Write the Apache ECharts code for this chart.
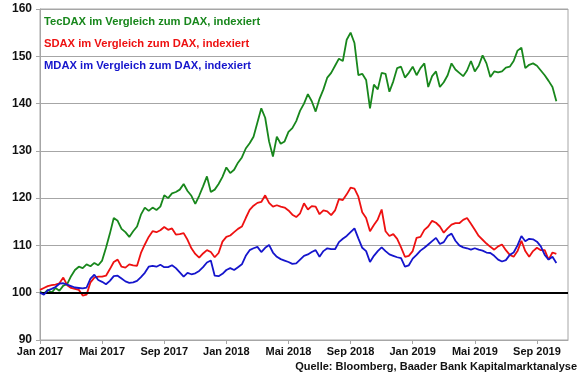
<!DOCTYPE html>
<html>
<head>
<meta charset="utf-8">
<script src="https://cdn.jsdelivr.net/npm/echarts@6/dist/echarts.min.js"></script>
<style>
  html, body { margin: 0; padding: 0; background: #fff; }
  #chart { width: 580px; height: 375px; }
</style>
</head>
<body>
<div id="chart"></div>
<script>
// Index relative to DAX (Jan 2017 = 100), read at quarter-month steps
const tickLabels = ['Jan 2017', 'Mai 2017', 'Sep 2017', 'Jan 2018', 'Mai 2018', 'Sep 2018', 'Jan 2019', 'Mai 2019', 'Sep 2019'];

const tecdax = [
  100.2, 99.8, 100.6, 100.0, 101.0, 100.4, 101.5, 101.8, 103.5, 104.8,
  105.5, 105.2, 106.0, 105.6, 106.3, 105.8, 106.8, 109.5, 112.5, 115.8,
  115.2, 113.5, 112.8, 111.8, 113.0, 114.0, 116.5, 118.0, 117.3, 118.0,
  117.5, 118.2, 120.6, 120.0, 121.0, 121.3, 121.8, 123.0, 121.5, 120.5,
  118.8, 120.5, 122.5, 124.6, 121.3, 121.8, 123.0, 124.5, 126.5, 125.3,
  126.0, 127.5, 128.6, 130.5, 131.6, 133.0, 136.0, 139.0, 137.0, 132.0,
  128.8, 133.0, 131.5, 132.0, 134.0, 134.8, 136.3, 138.5, 140.0, 142.0,
  140.5, 138.3, 141.0, 143.0, 145.5, 146.5, 148.0, 149.5, 149.0, 153.5,
  155.0, 152.8, 146.0, 146.3, 145.0, 139.0, 144.0, 143.0, 146.5, 146.3,
  142.5, 144.7, 147.5, 147.8, 145.5, 146.5, 147.8, 146.0, 147.5, 148.5,
  143.5, 145.8, 146.8, 143.5, 144.5, 146.0, 148.5, 147.2, 146.5, 145.8,
  147.0, 149.0, 146.8, 148.0, 150.2, 148.5, 145.6, 146.8, 146.6, 146.8,
  147.6, 147.8, 149.0, 151.2, 151.8, 147.5, 148.2, 148.5, 148.0, 147.0,
  146.0, 144.8, 143.5, 140.5
];

const sdax = [
  100.6, 101.0, 101.4, 101.6, 101.7, 102.0, 103.2, 101.6, 101.0, 100.8,
  100.6, 99.4, 99.6, 102.2, 103.2, 103.4, 103.4, 103.6, 105.0, 106.5,
  107.0, 105.5, 105.3, 106.0, 105.8, 105.7, 108.4, 110.2, 111.8, 113.0,
  112.8, 113.2, 113.9, 113.3, 113.6, 112.3, 112.4, 112.6, 111.2, 109.4,
  108.2, 107.4, 108.3, 109.0, 108.6, 107.5, 108.4, 110.8, 111.8, 112.1,
  112.8, 113.5, 114.0, 115.8, 117.5, 118.4, 119.0, 119.2, 120.6, 119.0,
  118.2, 118.5, 118.2, 118.0, 117.4, 116.5, 116.0, 116.8, 118.9, 117.6,
  118.3, 118.2, 116.6, 117.4, 117.2, 116.4, 117.4, 119.8, 119.6, 120.8,
  122.2, 122.0, 120.3, 117.0, 115.8, 113.0, 114.3, 115.5, 117.6, 113.0,
  112.0, 112.4, 111.4, 109.6, 107.6, 107.8, 108.8, 111.6, 111.8, 113.3,
  114.0, 115.2, 114.8, 114.0, 112.7, 113.6, 114.4, 114.7, 114.7, 115.4,
  115.8, 114.6, 113.3, 112.0, 111.2, 110.4, 109.7, 109.1, 109.8, 110.2,
  109.0, 108.0, 107.6, 108.8, 111.0, 108.8, 107.6, 108.8, 109.5, 109.0,
  109.0, 107.0, 108.5, 108.2
];

const mdax = [
  100.0, 99.6, 100.5, 100.8, 101.2, 101.9, 102.0, 101.7, 101.4, 101.1,
  101.0, 100.9, 101.1, 103.0, 103.8, 102.7, 102.3, 101.8, 102.5, 103.5,
  103.6, 103.0, 102.4, 102.1, 102.2, 102.5, 103.3, 104.2, 105.5, 105.7,
  105.5, 105.9, 105.4, 105.4, 105.8, 105.2, 104.3, 103.4, 104.2, 103.9,
  104.1, 104.6, 105.4, 106.4, 106.8, 103.6, 103.5, 104.0, 104.8, 105.2,
  104.8, 105.4, 106.0, 107.8, 109.0, 109.4, 109.7, 108.6, 109.5, 110.1,
  108.5, 107.6, 107.1, 106.8, 106.5, 106.1, 106.2, 107.0, 107.8, 108.1,
  108.6, 109.0, 107.6, 108.8, 109.4, 109.2, 109.2, 110.7, 111.4, 112.0,
  112.8, 113.6, 111.5, 109.5, 108.8, 106.5, 107.8, 108.8, 109.6, 108.8,
  108.1, 107.8, 107.5, 107.3, 105.5, 105.8, 107.2, 108.0, 108.9, 109.5,
  110.2, 110.9, 111.6, 110.3, 110.7, 112.0, 112.5, 111.0, 110.0, 109.6,
  109.4, 109.1, 109.4, 109.1, 108.9, 108.5, 108.4, 107.8, 107.0, 106.6,
  106.9, 108.0, 108.5, 110.0, 112.0, 110.9, 111.4, 111.3, 110.8, 109.8,
  108.0, 107.0, 107.6, 106.3
];

const legendTexts = [
  { text: 'TecDAX im Vergleich zum DAX, indexiert', color: '#18871c' },
  { text: 'SDAX im Vergleich zum DAX, indexiert', color: '#ee1111' },
  { text: 'MDAX im Vergleich zum DAX, indexiert', color: '#1515cc' }
];

// quarter-month slots, Jan 2017 .. Nov 2019
const STEPS_PER_TICK = 16;
const categories = [];
for (let i = 0; i <= 136; i++) {
  categories.push(i % STEPS_PER_TICK === 0 ? tickLabels[i / STEPS_PER_TICK] || '' : '');
}

const FONT = '"Liberation Sans", Arial, sans-serif';
const chart = echarts.init(document.getElementById('chart'), null, { renderer: 'canvas' });

chart.setOption({
  animation: false,
  backgroundColor: '#ffffff',
  grid: {
    left: 40, right: 12, top: 9, bottom: 35,
    show: true, borderColor: '#a6a6a6', borderWidth: 1
  },
  xAxis: {
    type: 'category',
    data: categories,
    boundaryGap: false,
    axisLine: { lineStyle: { color: '#a6a6a6', width: 1 } },
    axisTick: {
      length: 4,
      interval: (idx) => idx % STEPS_PER_TICK === 0 && idx < 136,
      lineStyle: { color: '#a6a6a6' }
    },
    axisLabel: {
      interval: (idx) => idx % STEPS_PER_TICK === 0 && idx < 136,
      color: '#111', fontFamily: FONT, fontWeight: 'bold', fontSize: 11, margin: 6
    },
    splitLine: { show: false }
  },
  yAxis: {
    type: 'value',
    min: 90, max: 160, interval: 10,
    axisLine: { show: true, lineStyle: { color: '#a6a6a6' } },
    axisTick: { show: true, length: 4, lineStyle: { color: '#a6a6a6' } },
    axisLabel: { color: '#111', fontFamily: FONT, fontWeight: 'bold', fontSize: 12, margin: 8 },
    splitLine: { lineStyle: { color: '#a6a6a6', width: 1 } }
  },
  series: [
    {
      name: 'TecDAX', type: 'line', data: tecdax, symbol: 'none',
      lineStyle: { color: '#18871c', width: 1.8 }, z: 3
    },
    {
      name: 'SDAX', type: 'line', data: sdax, symbol: 'none',
      lineStyle: { color: '#ee1111', width: 1.8 }, z: 4
    },
    {
      name: 'MDAX', type: 'line', data: mdax, symbol: 'none',
      lineStyle: { color: '#1515cc', width: 1.8 }, z: 5,
      markLine: {
        silent: true, symbol: 'none', label: { show: false },
        lineStyle: { color: '#000', width: 2, type: 'solid' },
        data: [{ yAxis: 100 }]
      }
    }
  ],
  graphic: [
    ...legendTexts.map((t, i) => ({
      type: 'text', left: 44, top: 16 + i * 22,
      style: { text: t.text, fill: t.color, font: 'bold 11.2px ' + FONT }
    })),
    {
      type: 'text', right: 3, top: 361,
      style: { text: 'Quelle: Bloomberg, Baader Bank Kapitalmarktanalyse', fill: '#111', font: 'bold 11px ' + FONT }
    }
  ]
});
</script>
</body>
</html>
